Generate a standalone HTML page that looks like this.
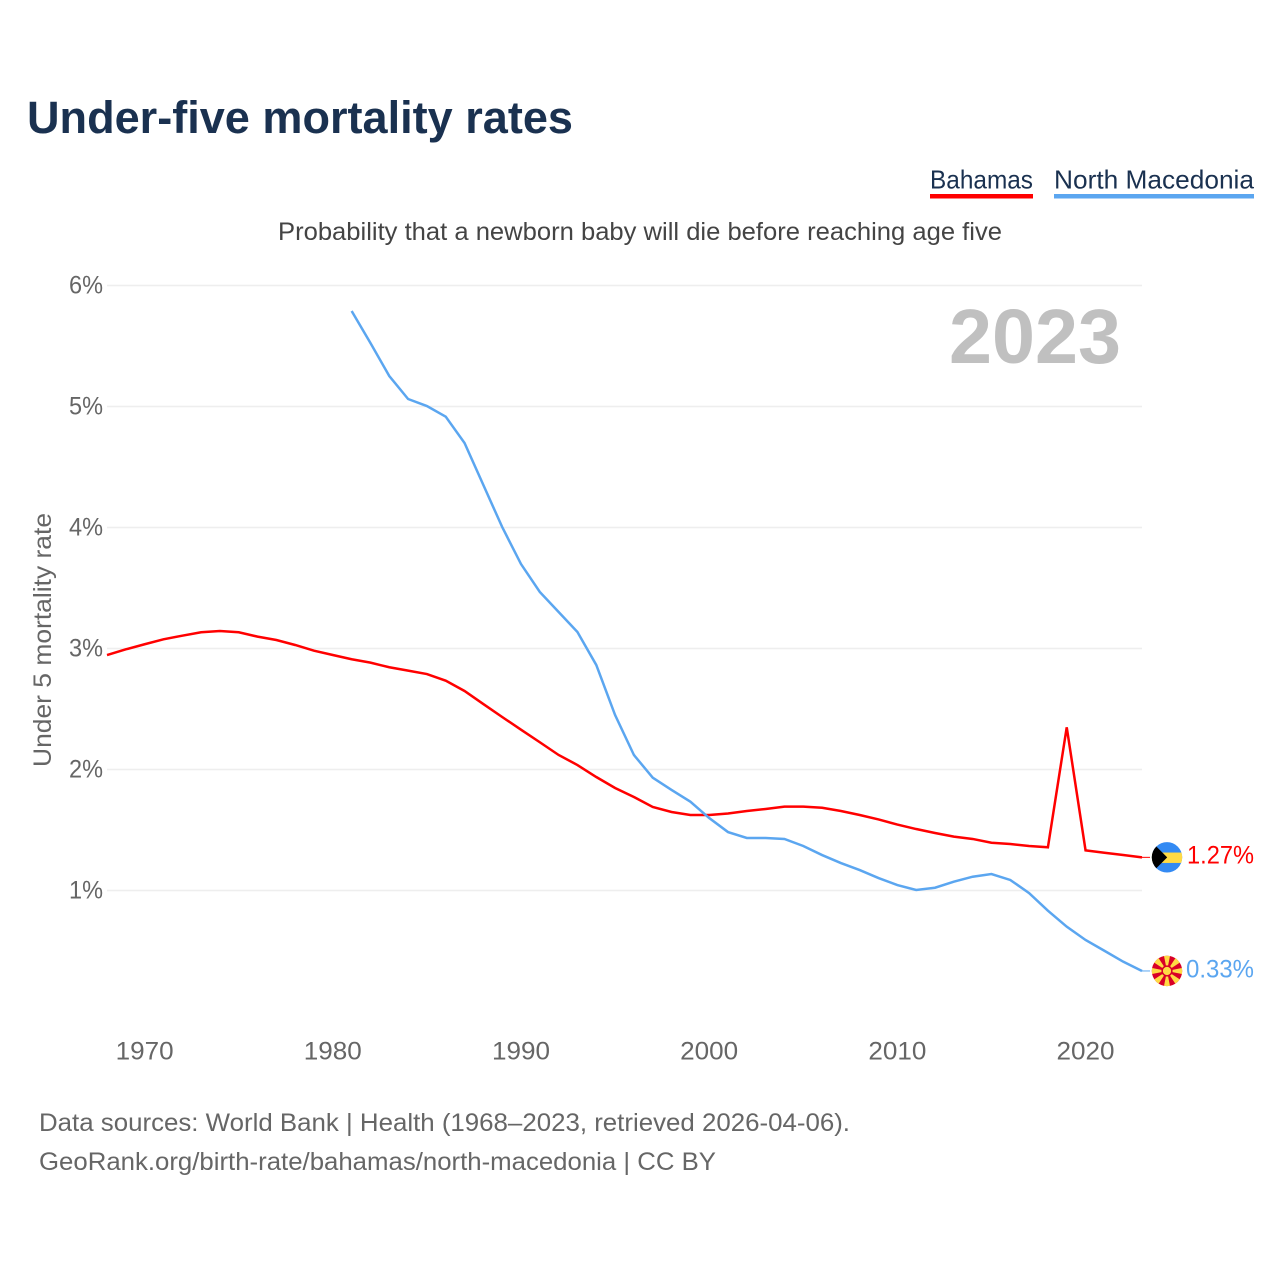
<!DOCTYPE html>
<html lang="en">
<head>
<meta charset="utf-8">
<title>Under-five mortality rates</title>
<style>
html,body{margin:0;padding:0;background:#fff;width:1280px;height:1280px;overflow:hidden}
svg{display:block}
text{font-family:"Liberation Sans",sans-serif}
</style>
</head>
<body>
<svg id="chart" xmlns="http://www.w3.org/2000/svg" width="1280" height="1280" viewBox="0 0 1280 1280">
  <defs>
    <clipPath id="flag-clip"><circle cx="0" cy="0" r="15.2"/></clipPath>
  </defs>
  <rect x="0" y="0" width="1280" height="1280" fill="#fff"/>
  <text x="27" y="133" font-size="45" font-weight="700" fill="#1a3150" textLength="546" lengthAdjust="spacingAndGlyphs">Under-five mortality rates</text>
  <g>
    <g>
      <text x="930" y="188.5" font-size="26" fill="#1a3150" textLength="103" lengthAdjust="spacingAndGlyphs">Bahamas</text>
      <rect x="930" y="194" width="103" height="4.5" fill="#ff0000"/>
    </g>
    <g>
      <text x="1054" y="188.5" font-size="26" fill="#1a3150" textLength="200" lengthAdjust="spacingAndGlyphs">North Macedonia</text>
      <rect x="1054" y="194" width="200" height="4.5" fill="#5ba6f0"/>
    </g>
  </g>
  <text x="278" y="240" font-size="25" fill="#444" textLength="724" lengthAdjust="spacingAndGlyphs">Probability that a newborn baby will die before reaching age five</text>
  <text transform="translate(51,640) rotate(-90)" text-anchor="middle" font-size="25" fill="#666" textLength="254" lengthAdjust="spacingAndGlyphs">Under 5 mortality rate</text>
  <g id="grid"></g>
  <g id="y-ticks"></g>
  <g id="x-ticks"></g>
  <text x="949" y="363" font-size="77" font-weight="700" fill="#c0c0c0" textLength="172" lengthAdjust="spacingAndGlyphs">2023</text>
  <path id="line-bahamas" fill="none" stroke="#ff0000" stroke-width="2.5" stroke-linejoin="miter"/>
  <path id="line-macedonia" fill="none" stroke="#5ba6f0" stroke-width="2.5" stroke-linejoin="miter"/>
  <line id="stub-bahamas" x1="1142" x2="1150" stroke="#ff0000" stroke-width="1"/>
  <line id="stub-macedonia" x1="1142" x2="1150" stroke="#5ba6f0" stroke-width="1"/>
  <g id="flag-bahamas">
    <g clip-path="url(#flag-clip)">
      <rect x="-16" y="-16" width="32" height="32" fill="#338af3"/>
      <rect x="-16" y="-4.8" width="32" height="10.4" fill="#ffda44"/>
      <polygon points="-19,-19.2 0.2,0 -19,19.2" fill="#000"/>
    </g>
  </g>
  <g id="flag-macedonia">
    <g clip-path="url(#flag-clip)">
      <rect x="-16" y="-16" width="32" height="32" fill="#d80027"/>
      <polygon points="-3.4,-17 3.4,-17 0,0" fill="#ffda44"/>
      <polygon points="-3.4,17 3.4,17 0,0" fill="#ffda44"/>
      <polygon points="-17,-3.4 -17,3.4 0,0" fill="#ffda44"/>
      <polygon points="17,-3.4 17,3.4 0,0" fill="#ffda44"/>
      <polygon points="-14.5,-9.5 -9.5,-14.5 0,0" fill="#ffda44"/>
      <polygon points="14.5,-9.5 9.5,-14.5 0,0" fill="#ffda44"/>
      <polygon points="-14.5,9.5 -9.5,14.5 0,0" fill="#ffda44"/>
      <polygon points="14.5,9.5 9.5,14.5 0,0" fill="#ffda44"/>
      <circle cx="0" cy="0" r="5.6" fill="#d80027"/>
      <circle cx="0" cy="0" r="4.1" fill="#ffda44"/>
    </g>
  </g>
  <text id="value-bahamas" x="1187" font-size="25" fill="#ff0000" textLength="67" lengthAdjust="spacingAndGlyphs"></text>
  <text id="value-macedonia" x="1186" font-size="25" fill="#5ba6f0" textLength="68" lengthAdjust="spacingAndGlyphs"></text>
  <text x="39" y="1131" font-size="25" fill="#666" textLength="811" lengthAdjust="spacingAndGlyphs">Data sources: World Bank | Health (1968–2023, retrieved 2026-04-06).</text>
  <text x="39" y="1170" font-size="25" fill="#666" textLength="677" lengthAdjust="spacingAndGlyphs">GeoRank.org/birth-rate/bahamas/north-macedonia | CC BY</text>
</svg>
<script>
const bahamasFirstYear = 1968;
const macedoniaFirstYear = 1981;
const bahamasValues = [2.946,2.993,3.035,3.076,3.106,3.134,3.145,3.134,3.098,3.070,3.029,2.982,2.946,2.911,2.883,2.845,2.817,2.789,2.734,2.649,2.541,2.434,2.329,2.225,2.120,2.037,1.938,1.847,1.773,1.690,1.649,1.624,1.624,1.636,1.657,1.674,1.693,1.693,1.684,1.657,1.624,1.587,1.545,1.508,1.475,1.445,1.426,1.395,1.384,1.368,1.357,2.349,1.332,1.312,1.293,1.274];
const macedoniaValues = [5.789,5.525,5.252,5.062,5.004,4.916,4.698,4.351,4.004,3.698,3.467,3.302,3.136,2.864,2.450,2.120,1.932,1.831,1.734,1.599,1.483,1.434,1.434,1.426,1.368,1.293,1.227,1.169,1.103,1.045,1.004,1.023,1.073,1.114,1.136,1.087,0.979,0.833,0.701,0.591,0.502,0.412,0.335];
const yTickValues = [1,2,3,4,5,6];
const xTickValues = [1970,1980,1990,2000,2010,2020];
const bahamasEndLabel = "1.27%";
const macedoniaEndLabel = "0.33%";

const NS = "http://www.w3.org/2000/svg";
function xScale(year){ return 107 + (year - 1968) * (1035 / 55); }
function yScale(v){ return 1011.5 - v * 121; }
function linePath(values, firstYear){
  return values.map(function(v, i){
    return (i ? "L" : "M") + xScale(firstYear + i).toFixed(2) + " " + yScale(v).toFixed(2);
  }).join(" ");
}

const gridGroup = document.getElementById("grid");
const yTickGroup = document.getElementById("y-ticks");
yTickValues.forEach(function(t){
  const ln = document.createElementNS(NS, "line");
  
  
  ln.setAttribute("x1", 107);
  ln.setAttribute("x2", 1142);
  ln.setAttribute("y1", yScale(t));
  ln.setAttribute("y2", yScale(t));
  ln.setAttribute("stroke", "#eeeeee");
  ln.setAttribute("stroke-width", "1.6");
  gridGroup.appendChild(ln);
  const tx = document.createElementNS(NS, "text");
  
  
  tx.setAttribute("x", 103);
  tx.setAttribute("y", yScale(t) + 8);
  tx.setAttribute("text-anchor", "end");
  tx.setAttribute("font-size", "25");
  tx.setAttribute("fill", "#666");
  tx.setAttribute("textLength", "34");
  tx.setAttribute("lengthAdjust", "spacingAndGlyphs");
  tx.textContent = t + "%";
  yTickGroup.appendChild(tx);
});

const xTickGroup = document.getElementById("x-ticks");
xTickValues.forEach(function(t){
  const tx = document.createElementNS(NS, "text");
  
  
  tx.setAttribute("x", xScale(t));
  tx.setAttribute("y", 1059.5);
  tx.setAttribute("text-anchor", "middle");
  tx.setAttribute("font-size", "25");
  tx.setAttribute("fill", "#666");
  tx.setAttribute("textLength", "58");
  tx.setAttribute("lengthAdjust", "spacingAndGlyphs");
  tx.textContent = t;
  xTickGroup.appendChild(tx);
});

document.getElementById("line-bahamas").setAttribute("d", linePath(bahamasValues, bahamasFirstYear));
document.getElementById("line-macedonia").setAttribute("d", linePath(macedoniaValues, macedoniaFirstYear));

const bahamasEndY = yScale(bahamasValues[bahamasValues.length - 1]);
const macedoniaEndY = yScale(macedoniaValues[macedoniaValues.length - 1]);
const stubB = document.getElementById("stub-bahamas");
stubB.setAttribute("y1", bahamasEndY);
stubB.setAttribute("y2", bahamasEndY);
const stubM = document.getElementById("stub-macedonia");
stubM.setAttribute("y1", macedoniaEndY);
stubM.setAttribute("y2", macedoniaEndY);
document.getElementById("flag-bahamas").setAttribute("transform", "translate(1167," + bahamasEndY + ")");
document.getElementById("flag-macedonia").setAttribute("transform", "translate(1167," + macedoniaEndY + ")");
const valB = document.getElementById("value-bahamas");
valB.setAttribute("y", bahamasEndY + 6);
valB.textContent = bahamasEndLabel;
const valM = document.getElementById("value-macedonia");
valM.setAttribute("y", macedoniaEndY + 6.7);
valM.textContent = macedoniaEndLabel;
</script>
</body>
</html>
